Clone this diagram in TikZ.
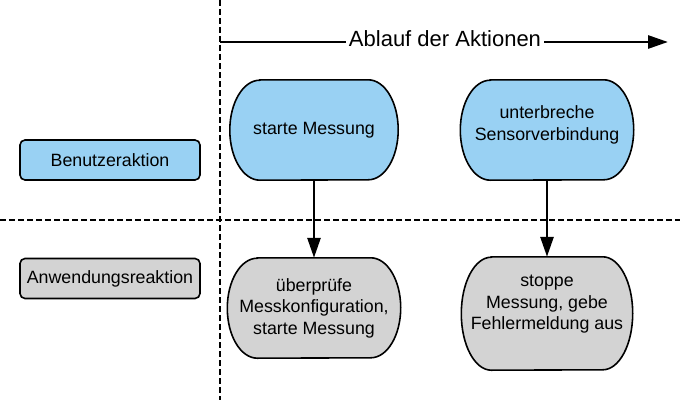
\documentclass[tikz,border=0pt]{standalone}
\usepackage{fontspec}
\setmainfont{Liberation Sans}
\usetikzlibrary{positioning,arrows.meta,backgrounds}

\definecolor{actionblue}{RGB}{153,209,243}
\definecolor{reactiongray}{RGB}{211,211,211}

% flattened stadium behind a task node: name, fill, end height
\newcommand{\stadium}[3]{%
  \filldraw[line width=1.6pt,fill=#2]
    ([xshift=30pt]#1.north west) -- ([xshift=-30pt]#1.north east)
    arc[start angle=90,end angle=-90,x radius=30pt,y radius=#3]
    -- ([xshift=30pt]#1.south west)
    arc[start angle=270,end angle=90,x radius=30pt,y radius=#3]
    -- cycle;}

\begin{document}
\begin{tikzpicture}[x=1pt,y=1pt,node distance=178pt,on grid,
  font=\fontsize{17.8}{21.5}\selectfont,
  lane/.style={line width=1.2pt,dash pattern=on 6pt off 3pt},
  legend/.style={draw,line width=1.6pt,rounded corners=5pt,minimum width=180pt,minimum height=40pt,inner sep=0pt},
  task/.style={align=center,minimum height=100pt,inner sep=0pt},
  flow/.style={line width=2.8pt,-{Triangle[length=20pt,width=13pt]}}]
  \useasboundingbox (0,0) rectangle (680,400);
  \coordinate (lanetop) at (220,400);
  \coordinate (lanebottom) at (220,0);
  \coordinate (laneleft) at (0,180);
  \coordinate (laneright) at (680,180);
  \coordinate (flowstart) at (220,358);
  \coordinate (flowend) at (668,358);
  \draw[lane] (lanetop) -- (lanebottom);
  \draw[lane] (laneleft) -- (laneright);
  \draw[flow] (flowstart) -- (flowend);
  \node[fill=white,inner xsep=3pt,inner ysep=1pt,anchor=base,font=\fontsize{22}{26}\selectfont] (title) at (445,353) {Ablauf der Aktionen};

  \node[legend,fill=actionblue] (user) at (110,240) {Benutzeraktion};
  \node[legend,fill=reactiongray] (app) at (110,121.5) {Anwendungsreaktion};

  \node[task,minimum width=168pt] (start) at (314,270) {starte Messung};
  \node[task,minimum width=173pt,text depth=14pt] (interrupt) at (547,270) {unterbreche\\Sensorverbindung};
  \node[task,minimum width=173pt] (check) [below=of start] {überprüfe\\Messkonfiguration,\\starte Messung};
  \node[task,minimum width=171pt,minimum height=113pt,text depth=22pt] (stop) [below=183.5pt of interrupt] {stoppe\\Messung, gebe\\Fehlermeldung aus};

  \begin{scope}[on background layer]
    \stadium{start}{actionblue}{50pt}
    \stadium{interrupt}{actionblue}{50pt}
    \stadium{check}{reactiongray}{50pt}
    \stadium{stop}{reactiongray}{56.5pt}
  \end{scope}

  \path[flow]
  (start) edge (check)
  (interrupt) edge (stop);
\end{tikzpicture}
\end{document}
